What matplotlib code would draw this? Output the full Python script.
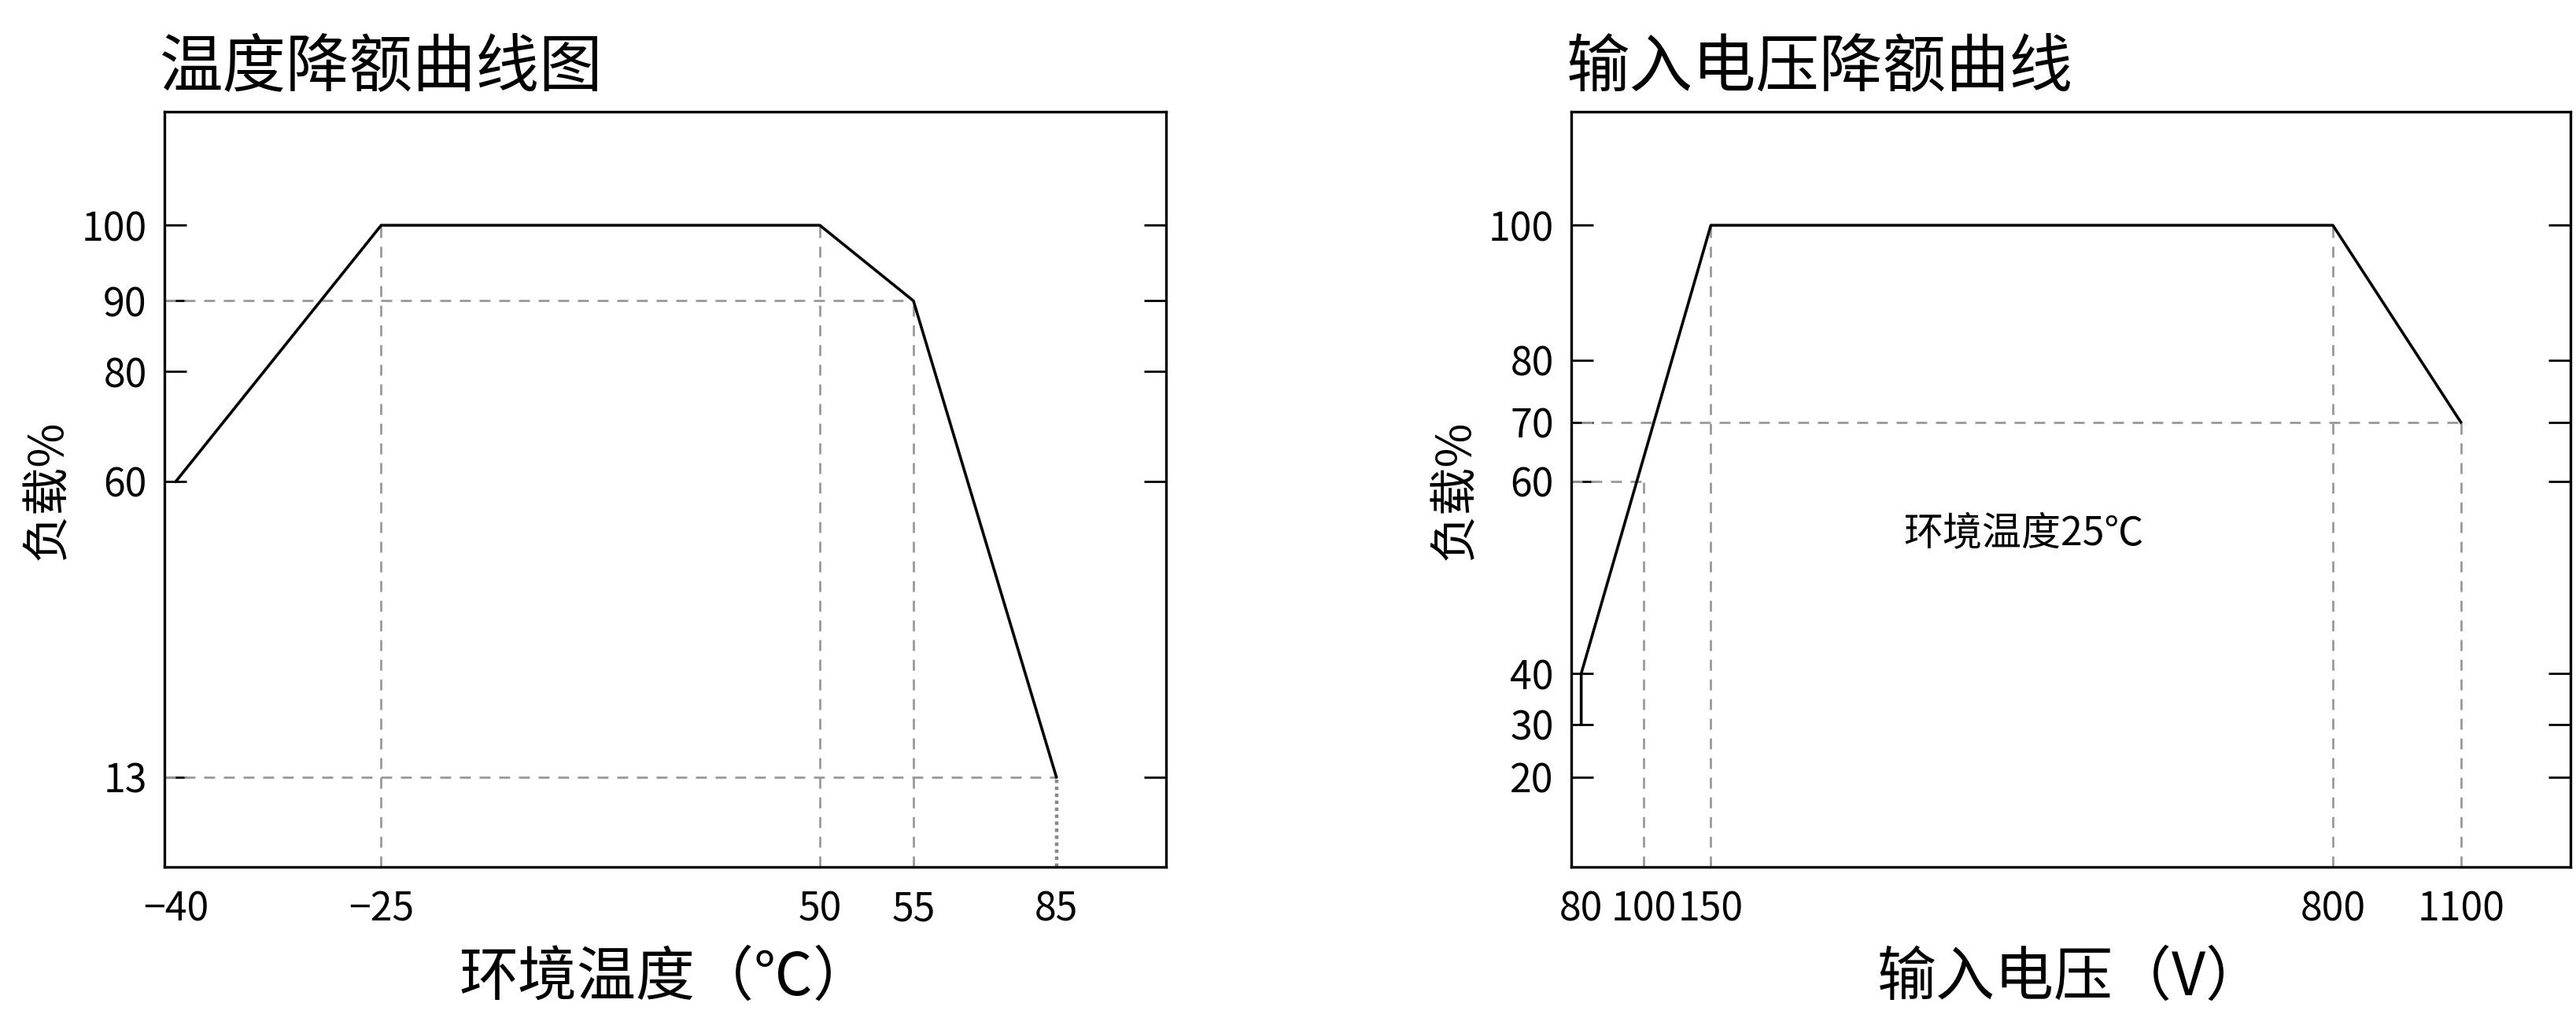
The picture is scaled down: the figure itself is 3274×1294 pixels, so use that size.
import numpy as np
import matplotlib
matplotlib.use("Agg")
import matplotlib.pyplot as plt

plt.rcParams['font.family'] = ['Noto Sans CJK SC', 'DejaVu Sans']

# Left chart data
t_x = [-40, -25, 50, 55, 85]
t_y = [60, 100, 100, 90, 13]
t_xticks = [-40, -25, 50, 55, 85]
t_yticks = [13, 60, 80, 90, 100]
# Right chart data
v_x = [80, 80, 150, 800, 1100]
v_y = [30, 40, 100, 100, 70]
v_xticks = [80, 100, 150, 800, 1100]
v_yticks = [20, 30, 40, 60, 70, 80, 100]

def make_scale(kv, kp):
    kv = np.asarray(kv, float); kp = np.asarray(kp, float)
    fwd = lambda v: np.interp(v, kv, kp)
    inv = lambda p: np.interp(p, kp, kv)
    return fwd, inv

fig = plt.figure(figsize=(16.37, 6.47), dpi=200)
axL = fig.add_axes([0.0638, 0.148, 0.389, 0.742])
axR = fig.add_axes([0.610, 0.148, 0.388, 0.742])

dash = dict(color='#999999', lw=1.0, ls=(0, (5, 4)))

# ---- left
axL.set_xscale('function', functions=make_scale([-40.84, -40, -25, 50, 55, 85, 108.1], [0, 7, 132, 399, 456, 543, 610]))
axL.set_yscale('function', functions=make_scale([-1.4, 13, 60, 80, 90, 100, 115], [0, 55, 235, 302, 345, 391, 460]))
axL.set_xlim(-40.84, 108.1); axL.set_ylim(-1.4, 115)
axL.plot([-40.84, 55], [90, 90], **dash)
axL.plot([-40.84, 85], [13, 13], **dash)
for xv, yv in [(-25, 100), (50, 100), (55, 90)]:
    axL.plot([xv, xv], [-1.4, yv], **dash)
axL.plot([85, 85], [-1.4, 13], color='#888888', lw=1.6, ls=(0, (1, 1)))
axL.plot(t_x, t_y, color='black', lw=1.3)
axL.set_xticks(t_xticks); axL.set_xticklabels([str(v).replace('-', '−') for v in t_xticks])
axL.set_yticks(t_yticks)
axL.set_title('温度降额曲线图', loc='left', fontsize=29, pad=12, x=-0.005)
axL.set_xlabel('环境温度（℃）', fontsize=27, labelpad=8)
axL.set_ylabel('负载%', fontsize=22)

# ---- right
axR.set_xscale('function', functions=make_scale([76.8, 80, 100, 150, 800, 1100, 1358], [0, 6, 44, 85, 464, 542, 609]))
axR.set_yscale('function', functions=make_scale([3, 20, 30, 40, 60, 70, 80, 100, 116.8], [0, 55, 87, 118, 235, 271, 309, 391, 460]))
axR.set_xlim(76.8, 1358); axR.set_ylim(3, 116.8)
axR.plot([80, 1100], [70, 70], **dash)
axR.plot([76.8, 100], [60, 60], **dash)
axR.plot([100, 100], [3, 60], **dash)
for xv, yv in [(150, 100), (800, 100), (1100, 70)]:
    axR.plot([xv, xv], [3, yv], **dash)
axR.plot(v_x, v_y, color='black', lw=1.3)
axR.set_xticks(v_xticks)
axR.set_yticks(v_yticks)
axR.text(477, 54.5, '环境温度25℃', fontsize=18, ha='center', va='center')
axR.set_title('输入电压降额曲线', loc='left', fontsize=29, pad=12, x=-0.005)
axR.set_xlabel('输入电压（V）', fontsize=27, labelpad=8)
axR.set_ylabel('负载%', fontsize=22)

for ax in (axL, axR):
    ax.minorticks_off()
    ax.tick_params(axis='y', direction='in', left=True, right=True, length=10, width=1, labelsize=18, pad=8)
    ax.tick_params(axis='x', length=0, labelsize=18, pad=10)
    for s in ax.spines.values():
        s.set_linewidth(1.2)

fig.savefig('out.png', dpi=200)
